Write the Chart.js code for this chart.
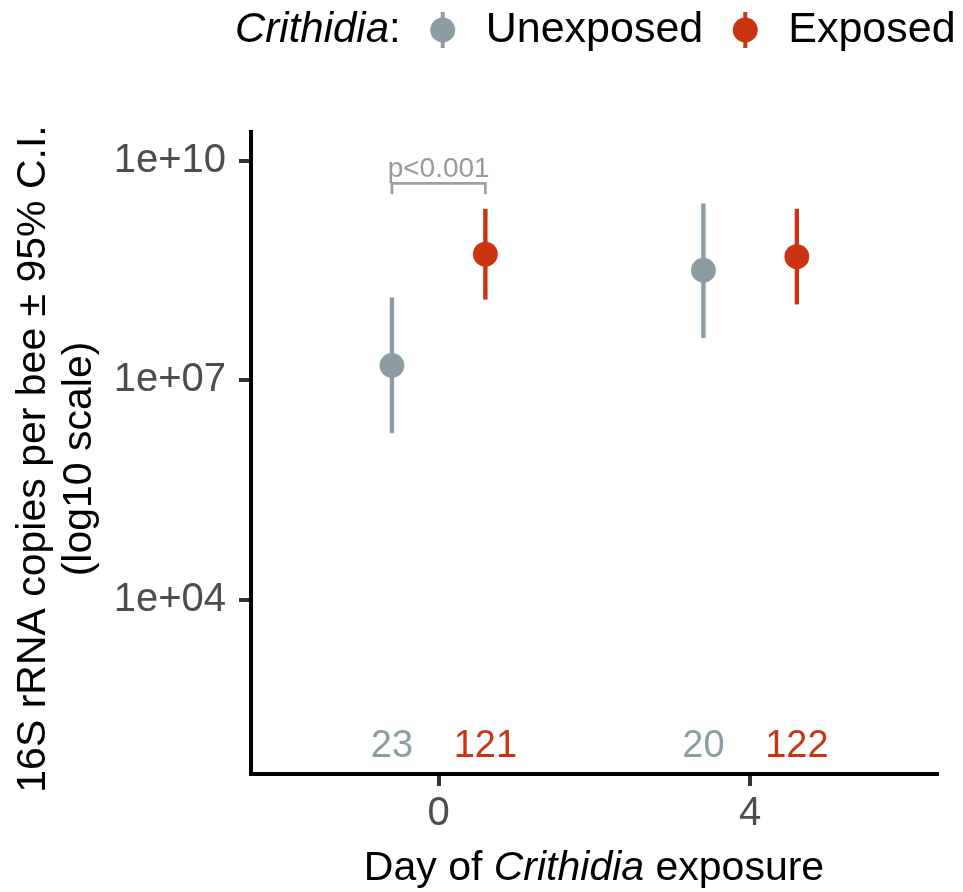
<!DOCTYPE html>
<html>
<head>
<meta charset="utf-8">
<script src="https://cdn.jsdelivr.net/npm/chart.js@4.4.1/dist/chart.umd.min.js"></script>
<style>
  html, body { margin: 0; padding: 0; background: #fff; }
</style>
</head>
<body>
<canvas id="chart" width="963" height="892"></canvas>
<script>
// ===== DATA =====
const days = [0, 4];
const groups = ["Unexposed", "Exposed"];
const unexposedMean = [1.6e7, 3.2e8];
const unexposedLow = [1.9e6, 3.8e7];
const unexposedHigh = [1.35e8, 2.6e9];
const exposedMean = [5.3e8, 4.9e8];
const exposedLow = [1.27e8, 1.09e8];
const exposedHigh = [2.2e9, 2.2e9];
const unexposedN = [23, 20];
const exposedN = [121, 122];
const yTicks = [1e4, 1e7, 1e10];
const xTicks = [0, 4];
const pLabel = "p<0.001";

const GREY = "#8b9da3";
const RED = "#cc3311";
const FONT = "'Liberation Sans', Arial, Helvetica, sans-serif";
const DODGE = 0.6;

function makePoints(mean, lo, hi, n, offset) {
    return days.map((d, i) => ({ x: d + offset, y: mean[i], lo: lo[i], hi: hi[i], n: n[i] }));
}

// error bars, counts, bracket, legend, titles
const extras = {
    id: "extras",
    beforeDatasetsDraw(chart) {
        const { ctx, scales: { x, y } } = chart;
        chart.data.datasets.forEach(ds => {
            ctx.save();
            ctx.strokeStyle = ds.borderColor;
            ctx.lineWidth = 4.4;
            ds.data.forEach(p => {
                const px = x.getPixelForValue(p.x);
                ctx.beginPath();
                ctx.moveTo(px, y.getPixelForValue(p.lo));
                ctx.lineTo(px, y.getPixelForValue(p.hi));
                ctx.stroke();
            });
            ctx.restore();
        });
    },
    afterDraw(chart) {
        const { ctx, scales: { x, y }, chartArea } = chart;
        ctx.save();

        // sample sizes near the bottom
        ctx.font = "38px " + FONT;
        ctx.textAlign = "center";
        ctx.textBaseline = "middle";
        chart.data.datasets.forEach(ds => {
            ctx.fillStyle = ds.borderColor;
            ds.data.forEach(p => ctx.fillText(String(p.n), x.getPixelForValue(p.x), y.getPixelForValue(100)));
        });

        // p-value bracket on day 0
        const bx1 = x.getPixelForValue(days[0] - DODGE);
        const bx2 = x.getPixelForValue(days[0] + DODGE);
        const byTop = y.getPixelForValue(4.9e9);
        const byEnd = y.getPixelForValue(3.5e9);
        ctx.strokeStyle = "#a0a0a0";
        ctx.lineWidth = 2.8;
        ctx.beginPath();
        ctx.moveTo(bx1, byEnd); ctx.lineTo(bx1, byTop); ctx.lineTo(bx2, byTop); ctx.lineTo(bx2, byEnd);
        ctx.stroke();
        ctx.fillStyle = "#999999";
        ctx.font = "28px " + FONT;
        ctx.textBaseline = "alphabetic";
        ctx.fillText(pLabel, (bx1 + bx2) / 2, byTop - 6);

        // x title with italic genus
        ctx.fillStyle = "#000";
        ctx.textAlign = "left";
        ctx.textBaseline = "alphabetic";
        const parts = [["Day of ", "normal"], ["Crithidia", "italic"], [" exposure", "normal"]];
        let total = 0;
        parts.forEach(([t, s]) => { ctx.font = s + " 41px " + FONT; total += ctx.measureText(t).width; });
        let tx = (chartArea.left + chartArea.right) / 2 - total / 2;
        parts.forEach(([t, s]) => {
            ctx.font = s + " 41px " + FONT;
            ctx.fillText(t, tx, 880);
            tx += ctx.measureText(t).width;
        });

        // y title, two lines
        ctx.save();
        ctx.translate(0, 459);
        ctx.rotate(-Math.PI / 2);
        ctx.textAlign = "center";
        ctx.textBaseline = "middle";
        ctx.font = "41px " + FONT;
        ctx.fillText("16S rRNA copies per bee \u00b1 95% C.I.", 0, 34);
        ctx.fillText("(log10 scale)", 0, 80);
        ctx.restore();

        // legend
        const ly = 30;
        let lx = 235;
        ctx.textBaseline = "middle";
        ctx.textAlign = "left";
        ctx.font = "italic 42px " + FONT;
        ctx.fillText("Crithidia", lx, ly);
        lx += ctx.measureText("Crithidia").width;
        ctx.font = "42px " + FONT;
        ctx.fillText(":", lx, ly);
        lx += ctx.measureText(":").width;
        chart.data.datasets.forEach((ds, i) => {
            const cx = lx + 42;
            ctx.strokeStyle = ds.borderColor;
            ctx.fillStyle = ds.borderColor;
            ctx.lineWidth = 4;
            ctx.beginPath(); ctx.moveTo(cx, ly - 18); ctx.lineTo(cx, ly + 18); ctx.stroke();
            ctx.beginPath(); ctx.arc(cx, ly, 12.5, 0, Math.PI * 2); ctx.fill();
            ctx.fillStyle = "#000";
            ctx.font = "43px " + FONT;
            ctx.fillText(groups[i], cx + 43, ly);
            lx = cx + 43 + ctx.measureText(groups[i]).width;
        });

        ctx.restore();
    }
};

new Chart(document.getElementById("chart"), {
    type: "scatter",
    data: {
        datasets: [
            {
                label: groups[0],
                data: makePoints(unexposedMean, unexposedLow, unexposedHigh, unexposedN, -DODGE),
                backgroundColor: GREY, borderColor: GREY,
                pointRadius: 12.4, pointHoverRadius: 12.4, borderWidth: 0
            },
            {
                label: groups[1],
                data: makePoints(exposedMean, exposedLow, exposedHigh, exposedN, DODGE),
                backgroundColor: RED, borderColor: RED,
                pointRadius: 12.4, pointHoverRadius: 12.4, borderWidth: 0
            }
        ]
    },
    options: {
        responsive: false,
        animation: false,
        events: [],
        layout: { padding: { left: 0, top: 132, right: 26, bottom: 0 } },
        plugins: { legend: { display: false }, tooltip: { enabled: false } },
        scales: {
            x: {
                type: "linear",
                min: -2.41, max: 6.4,
                afterBuildTicks: s => { s.ticks = xTicks.map(v => ({ value: v })); },
                afterFit: s => { s.height = 892 - 774; },
                grid: { drawOnChartArea: false, drawTicks: true, tickLength: 12, color: "#333", lineWidth: 4 },
                border: { display: true, color: "#000", width: 4 },
                ticks: { color: "#4d4d4d", font: { family: FONT, size: 40 }, padding: 4 }
            },
            y: {
                type: "logarithmic",
                min: 42, max: 2.47e10,
                afterBuildTicks: s => { s.ticks = yTicks.map(v => ({ value: v })); },
                afterFit: s => { s.width = 251; },
                grid: { drawOnChartArea: false, drawTicks: true, tickLength: 12, color: "#333", lineWidth: 4 },
                border: { display: true, color: "#000", width: 4 },
                ticks: {
                    color: "#4d4d4d", font: { family: FONT, size: 40 }, padding: 13,
                    callback: v => "1e+" + String(Math.round(Math.log10(v))).padStart(2, "0")
                }
            }
        }
    },
    plugins: [extras]
});
</script>
</body>
</html>
